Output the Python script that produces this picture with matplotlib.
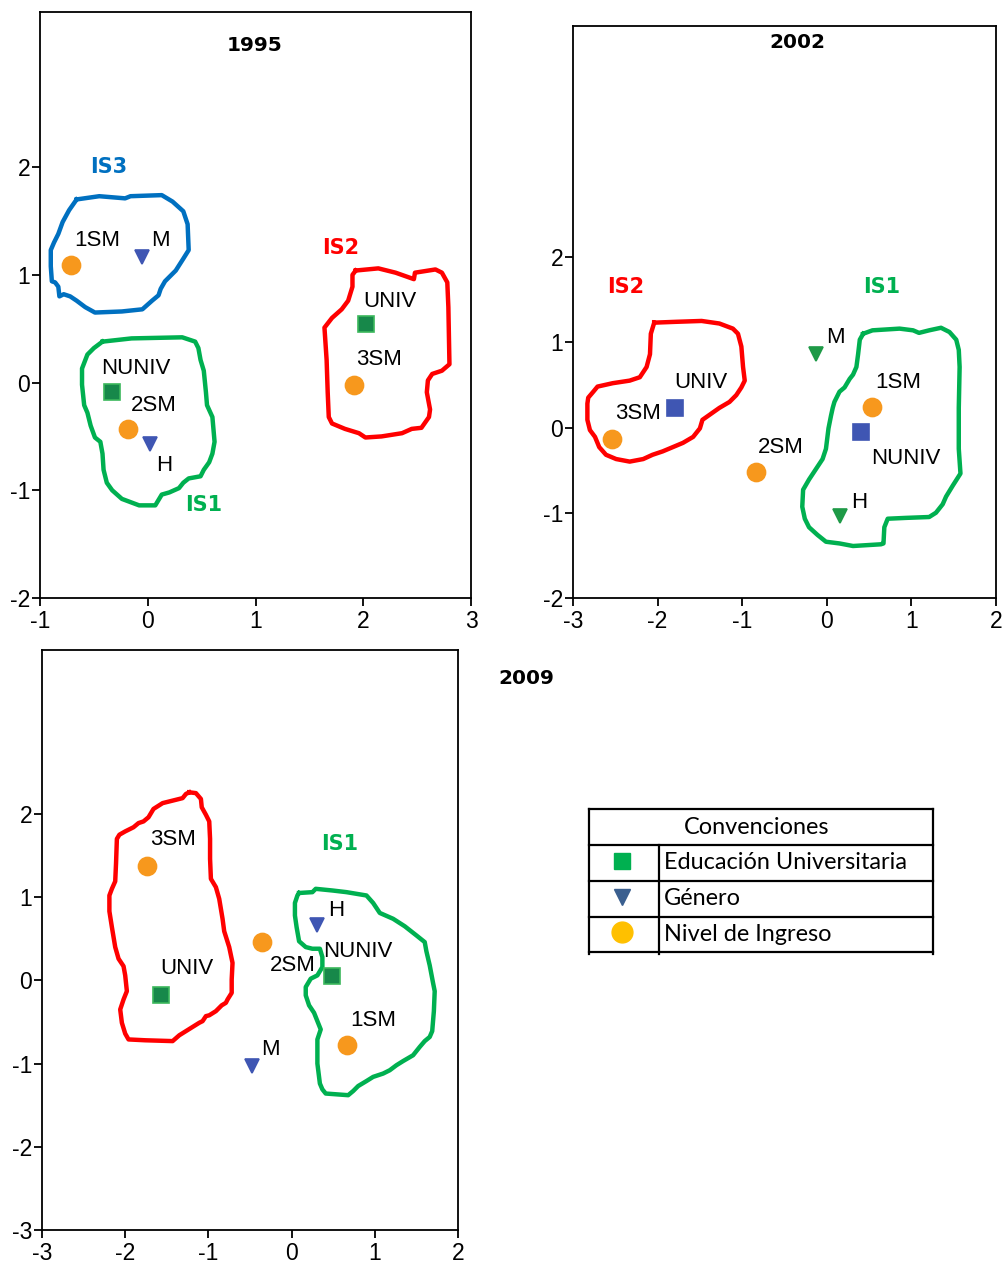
import matplotlib.pyplot as plt

# ---------------- data ----------------
# 1995
p95_lab = ['1SM', 'M', 'NUNIV', '2SM', 'H', 'UNIV', '3SM']
p95_kind = ['ing', 'gen', 'edu', 'ing', 'gen', 'edu', 'ing']
p95_x = [-0.71, -0.05, -0.33, -0.18, 0.02, 2.03, 1.91]
p95_y = [1.09, 1.17, -0.09, -0.43, -0.57, 0.54, -0.02]
p95_lx = [-0.47, 0.12, -0.11, 0.06, 0.15, 2.25, 2.15]
p95_ly = [1.32, 1.32, 0.13, -0.21, -0.77, 0.75, 0.21]

is3_95_x = [-0.66, -0.45, -0.21, -0.16, 0.13, 0.23, 0.33, 0.37, 0.38, 0.33, 0.26, 0.16, 0.12, 0.10,
            0.04, -0.05, -0.24, -0.49, -0.58, -0.66, -0.72, -0.78, -0.82, -0.83, -0.86, -0.89, -0.90,
            -0.90, -0.87, -0.83, -0.79, -0.73, -0.66]
is3_95_y = [1.70, 1.73, 1.71, 1.73, 1.74, 1.68, 1.59, 1.47, 1.23, 1.15, 1.04, 0.94, 0.87, 0.81,
            0.76, 0.68, 0.66, 0.65, 0.70, 0.76, 0.80, 0.82, 0.80, 0.89, 0.93, 0.94, 1.08, 1.23, 1.30,
            1.38, 1.49, 1.60, 1.70]
is1_95_x = [-0.42, -0.15, 0.32, 0.44, 0.47, 0.49, 0.52, 0.54, 0.55, 0.60, 0.62, 0.60, 0.57, 0.52,
            0.49, 0.38, 0.33, 0.29, 0.20, 0.13, 0.10, 0.07, -0.08, -0.16, -0.24, -0.33, -0.38, -0.41,
            -0.42, -0.44, -0.49, -0.53, -0.56, -0.59, -0.61, -0.61, -0.56, -0.50, -0.42]
is1_95_y = [0.38, 0.41, 0.42, 0.38, 0.32, 0.21, 0.11, -0.09, -0.21, -0.32, -0.55, -0.66, -0.74,
            -0.81, -0.87, -0.89, -0.93, -0.98, -1.02, -1.04, -1.09, -1.14, -1.14, -1.11, -1.08, -1.00,
            -0.93, -0.81, -0.66, -0.55, -0.51, -0.40, -0.28, -0.21, -0.02, 0.13, 0.26, 0.32, 0.38]
is2_95_x = [1.93, 2.14, 2.30, 2.47, 2.48, 2.67, 2.73, 2.78, 2.79, 2.80, 2.73, 2.64, 2.60, 2.59,
            2.62, 2.61, 2.54, 2.45, 2.36, 2.17, 2.02, 1.96, 1.83, 1.71, 1.68, 1.67, 1.66, 1.64, 1.71,
            1.80, 1.86, 1.90, 1.90, 1.93]
is2_95_y = [1.04, 1.06, 1.02, 0.96, 1.02, 1.05, 1.02, 0.93, 0.70, 0.17, 0.11, 0.08, 0.02, -0.09,
            -0.25, -0.32, -0.42, -0.43, -0.47, -0.50, -0.51, -0.47, -0.43, -0.38, -0.32, -0.09, 0.21,
            0.51, 0.60, 0.68, 0.76, 0.89, 1.00, 1.04]

# 2002
p02_lab = ['3SM', 'UNIV', '2SM', 'M', '1SM', 'NUNIV', 'H']
p02_kind = ['ing', 'edu', 'ing', 'gen', 'ing', 'edu', 'gen']
p02_x = [-2.54, -1.80, -0.84, -0.13, 0.54, 0.41, 0.16]
p02_y = [-0.14, 0.23, -0.52, 0.86, 0.24, -0.05, -1.04]
p02_lx = [-2.23, -1.49, -0.54, 0.10, 0.85, 0.93, 0.38]
p02_ly = [0.16, 0.53, -0.23, 1.05, 0.53, -0.36, -0.88]

is2_02_x = [-2.04, -1.78, -1.48, -1.27, -1.11, -1.05, -1.01, -0.99, -0.97, -1.01, -1.07, -1.15,
            -1.27, -1.37, -1.47, -1.50, -1.58, -1.70, -1.82, -1.94, -2.06, -2.17, -2.33, -2.49,
            -2.61, -2.69, -2.74, -2.80, -2.83, -2.83, -2.82, -2.76, -2.71, -2.53, -2.33, -2.21,
            -2.13, -2.09, -2.08, -2.04]
is2_02_y = [1.23, 1.24, 1.25, 1.22, 1.16, 1.10, 0.95, 0.71, 0.55, 0.47, 0.38, 0.30, 0.23, 0.16,
            0.09, -0.01, -0.11, -0.18, -0.23, -0.28, -0.32, -0.37, -0.40, -0.37, -0.32, -0.23,
            -0.11, -0.03, 0.09, 0.28, 0.35, 0.42, 0.48, 0.52, 0.55, 0.59, 0.71, 0.86, 1.10, 1.23]
is1_02_x = [0.43, 0.54, 0.86, 1.02, 1.09, 1.21, 1.35, 1.45, 1.53, 1.56, 1.57, 1.56, 1.56, 1.58,
            1.49, 1.41, 1.37, 1.29, 1.21, 0.94, 0.72, 0.68, 0.67, 0.64, 0.31, 0.15, -0.01, -0.11,
            -0.21, -0.26, -0.29, -0.28, -0.21, -0.13, -0.05, -0.01, 0.02, 0.05, 0.07, 0.09, 0.15,
            0.21, 0.27, 0.31, 0.35, 0.37, 0.39, 0.43]
is1_02_y = [1.10, 1.14, 1.16, 1.14, 1.11, 1.14, 1.17, 1.12, 1.03, 0.91, 0.71, 0.23, -0.25, -0.54,
            -0.68, -0.81, -0.90, -1.00, -1.05, -1.06, -1.07, -1.17, -1.36, -1.37, -1.39, -1.36,
            -1.34, -1.26, -1.17, -1.07, -0.93, -0.73, -0.61, -0.49, -0.37, -0.25, -0.01, 0.14,
            0.23, 0.30, 0.42, 0.47, 0.57, 0.62, 0.71, 0.86, 1.03, 1.10]

# 2009
p09_lab = ['3SM', 'UNIV', '2SM', 'M', 'H', 'NUNIV', '1SM']
p09_kind = ['ing', 'edu', 'ing', 'gen', 'gen', 'edu', 'ing']
p09_x = [-1.74, -1.57, -0.35, -0.48, 0.31, 0.48, 0.66]
p09_y = [1.38, -0.17, 0.46, -1.03, 0.67, 0.05, -0.78]
p09_lx = [-1.43, -1.26, 0.02, -0.25, 0.53, 0.79, 0.98]
p09_ly = [1.69, 0.14, 0.18, -0.83, 0.84, 0.35, -0.48]

is2_09_x = [-1.23, -1.15, -1.09, -1.08, -1.03, -0.99, -0.98, -0.98, -0.97, -0.91, -0.87, -0.83,
            -0.81, -0.75, -0.71, -0.72, -0.72, -0.77, -0.79, -0.84, -0.91, -0.99, -1.03, -1.07,
            -1.11, -1.19, -1.27, -1.35, -1.43, -1.76, -1.96, -2.00, -2.04, -2.06, -2.02, -1.98,
            -2.00, -2.02, -2.08, -2.12, -2.16, -2.19, -2.19, -2.16, -2.12, -2.11, -2.10, -2.07,
            -2.00, -1.90, -1.84, -1.78, -1.72, -1.66, -1.55, -1.31, -1.27, -1.23]
is2_09_y = [2.26, 2.25, 2.18, 2.08, 1.99, 1.91, 1.70, 1.46, 1.22, 1.12, 0.98, 0.74, 0.59, 0.40,
            0.21, 0.01, -0.15, -0.23, -0.27, -0.30, -0.37, -0.42, -0.43, -0.49, -0.51, -0.56,
            -0.61, -0.66, -0.73, -0.72, -0.71, -0.64, -0.51, -0.35, -0.23, -0.13, 0.06, 0.17,
            0.26, 0.40, 0.64, 0.83, 1.02, 1.10, 1.19, 1.41, 1.70, 1.75, 1.79, 1.84, 1.89, 1.91,
            1.96, 2.06, 2.13, 2.19, 2.24, 2.26]
is1_09_x = [0.09, 0.25, 0.29, 0.49, 0.66, 0.90, 0.98, 1.06, 1.22, 1.36, 1.50, 1.60, 1.62, 1.66,
            1.70, 1.72, 1.71, 1.69, 1.66, 1.60, 1.54, 1.46, 1.34, 1.26, 1.18, 1.10, 0.98, 0.90,
            0.80, 0.74, 0.68, 0.41, 0.37, 0.34, 0.31, 0.31, 0.35, 0.31, 0.27, 0.21, 0.17, 0.17,
            0.23, 0.31, 0.37, 0.37, 0.34, 0.25, 0.17, 0.09, 0.06, 0.04, 0.04, 0.07, 0.09]
is1_09_y = [1.05, 1.06, 1.10, 1.08, 1.06, 1.02, 0.93, 0.81, 0.74, 0.65, 0.54, 0.46, 0.35, 0.18,
            -0.03, -0.13, -0.37, -0.61, -0.68, -0.73, -0.80, -0.90, -0.97, -1.02, -1.08, -1.12,
            -1.16, -1.21, -1.27, -1.33, -1.38, -1.36, -1.31, -1.24, -1.00, -0.71, -0.59, -0.49,
            -0.39, -0.30, -0.18, -0.08, 0.02, 0.06, 0.16, 0.28, 0.38, 0.38, 0.40, 0.47, 0.64,
            0.78, 0.93, 1.02, 1.05]

legend_title = 'Convenciones'
legend_items = ['Educación Universitaria', 'Género', 'Nivel de Ingreso']

# ---------------- styles ----------------
RED = '#ff0000'
GREEN = '#00b050'
BLUE = '#0070c0'
ORANGE = '#f7981d'
SQ_GREEN = '#17884a'
TRI_BLUE = '#3f56b3'
TRI_GREEN = '#1e9a47'

style_a = {'ing': ('o', ORANGE, ORANGE, 13),
           'edu': ('s', SQ_GREEN, '#3cb85c', 11),
           'gen': ('v', TRI_BLUE, TRI_BLUE, 10)}
style_b = {'ing': ('o', ORANGE, ORANGE, 13),
           'edu': ('s', TRI_BLUE, TRI_BLUE, 12),
           'gen': ('v', TRI_GREEN, TRI_GREEN, 10)}

plt.rcParams['font.family'] = ['Liberation Sans', 'DejaVu Sans']
plt.rcParams['axes.unicode_minus'] = False

fig = plt.figure(figsize=(10.05, 12.65), dpi=100)


def setup(ax, xlim, ylim, xticks, yticks):
    ax.set_xlim(*xlim)
    ax.set_ylim(*ylim)
    ax.set_xticks(xticks)
    ax.set_yticks(yticks)
    ax.tick_params(direction='out', length=6, width=1.3, labelsize=16.5)
    ax.tick_params(axis='x', pad=3)
    ax.tick_params(axis='y', pad=1)
    for s in ax.spines.values():
        s.set_linewidth(1.3)


def draw(ax, xs, ys, kinds, labs, lx, ly, style):
    for x, y, k in zip(xs, ys, kinds):
        m, fc, ec, ms = style[k]
        ax.plot(x, y, marker=m, color=fc, markeredgecolor=ec, markeredgewidth=1.2,
                markersize=ms, linestyle='none', zorder=4)
    for t, x, y in zip(labs, lx, ly):
        ax.text(x, y, t, fontsize=16, ha='center', va='center', zorder=5)


def outline(ax, xs, ys, color):
    ax.plot(xs, ys, color=color, lw=3.2, solid_joinstyle='round', zorder=3)


def cluster(ax, x, y, name, color):
    ax.text(x, y, name, color=color, fontsize=15, fontweight='heavy',
            family='DejaVu Sans', ha='center', va='center')


def title(ax, x, y, t):
    ax.text(x, y, t, fontsize=14.5, fontweight='heavy', family='DejaVu Sans',
            ha='center', va='center')


# 1995
ax1 = fig.add_axes([40 / 1005, 1 - 598 / 1265, 431 / 1005, 586 / 1265])
setup(ax1, (-1, 3), (-2, 3.44), [-1, 0, 1, 2, 3], [-2, -1, 0, 1, 2])
outline(ax1, is3_95_x, is3_95_y, BLUE)
outline(ax1, is1_95_x, is1_95_y, GREEN)
outline(ax1, is2_95_x, is2_95_y, RED)
draw(ax1, p95_x, p95_y, p95_kind, p95_lab, p95_lx, p95_ly, style_a)
cluster(ax1, -0.36, 2.00, 'IS3', BLUE)
cluster(ax1, 1.79, 1.25, 'IS2', RED)
cluster(ax1, 0.52, -1.14, 'IS1', GREEN)
title(ax1, 0.99, 3.13, '1995')

# 2002
ax2 = fig.add_axes([573 / 1005, 1 - 598 / 1265, 423 / 1005, 572 / 1265])
setup(ax2, (-3, 2), (-2, 4.71), [-3, -2, -1, 0, 1, 2], [-2, -1, 0, 1, 2])
outline(ax2, is2_02_x, is2_02_y, RED)
outline(ax2, is1_02_x, is1_02_y, GREEN)
draw(ax2, p02_x, p02_y, p02_kind, p02_lab, p02_lx, p02_ly, style_b)
cluster(ax2, -2.38, 1.65, 'IS2', RED)
cluster(ax2, 0.65, 1.65, 'IS1', GREEN)
title(ax2, -0.35, 4.52, '2002')

# 2009
ax3 = fig.add_axes([42 / 1005, 1 - 1230 / 1265, 416 / 1005, 580 / 1265])
setup(ax3, (-3, 2), (-3, 3.97), [-3, -2, -1, 0, 1, 2], [-3, -2, -1, 0, 1, 2])
outline(ax3, is2_09_x, is2_09_y, RED)
outline(ax3, is1_09_x, is1_09_y, GREEN)
draw(ax3, p09_x, p09_y, p09_kind, p09_lab, p09_lx, p09_ly, style_a)
cluster(ax3, 0.58, 1.64, 'IS1', GREEN)
title(ax3, 2.82, 3.63, '2009')

# legend table (pixel-like coordinates inside its own axes)
axl = fig.add_axes([585 / 1005, 1 - 958 / 1265, 352 / 1005, 153 / 1265])
axl.set_xlim(585, 937)
axl.set_ylim(958, 805)
axl.axis('off')
rows = [809, 845, 881, 917, 952]
for yy in rows:
    axl.plot([589, 933], [yy, yy], color='black', lw=1.6)
axl.plot([589, 589], [809, 954], color='black', lw=1.6)
axl.plot([933, 933], [809, 954], color='black', lw=1.6)
axl.plot([659, 659], [845, 954], color='black', lw=1.6)
lfont = ['Lato', 'DejaVu Sans']
axl.text(757, 828, legend_title, fontsize=16.9, family=lfont, ha='center', va='center')
leg_marks = [('s', '#00b050', 12), ('v', '#3a5f8f', 12), ('o', '#ffc000', 15)]
for i, (txt, (m, c, ms)) in enumerate(zip(legend_items, leg_marks)):
    yc = (rows[i + 1] + rows[i + 2]) / 2
    axl.plot(622, yc - 2, marker=m, color=c, markersize=ms, linestyle='none')
    axl.text(664, yc, txt, fontsize=16.9, family=lfont, ha='left', va='center')

fig.savefig('out.png', dpi=100)
